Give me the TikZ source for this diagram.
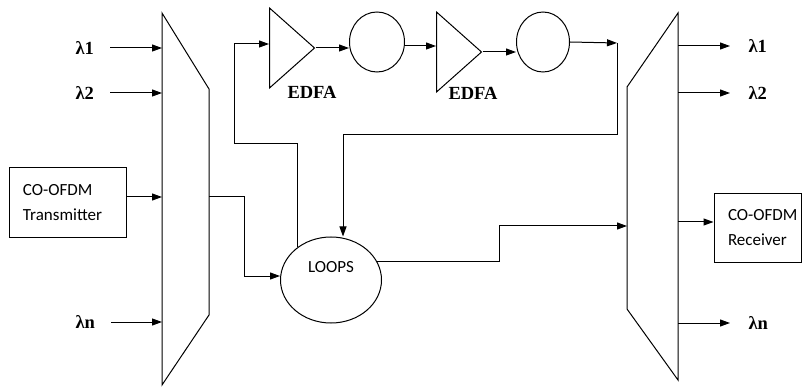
\documentclass[tikz,border=0pt]{standalone}
\usepackage{fontspec}
\setmainfont{Liberation Serif}
\newfontfamily\calfont{Carlito}
\usetikzlibrary{arrows.meta,shapes.geometric}

\begin{document}
\begin{tikzpicture}[x=1pt, y=-1pt, >={Triangle[length=10pt,width=7pt]}, line width=1pt,
    lam/.style={anchor=west, inner sep=0pt, font=\fontsize{18.5}{20}\selectfont\bfseries},
    amp/.style={draw, isosceles triangle, isosceles triangle stretches, anchor=lower side, minimum width=80pt, minimum height=45pt, inner sep=0pt},
    ring/.style={draw, ellipse, minimum width=55pt, minimum height=60pt, inner sep=0pt},
    ofdm/.style={draw, inner sep=0pt, align=left, minimum height=69pt, font=\calfont\fontsize{17}{25}\selectfont}]
    \useasboundingbox (0,0) rectangle (803,390);

    % mux and demux
    \draw (162,13) -- (209,89) -- (209,315) -- (162,385) -- cycle;
    \draw (627,87) -- (678,13) -- (678,380) -- (627,309) -- cycle;

    % transmitter side
    \node[ofdm, text width=89pt, minimum width=117pt] (tx) at (67.5,202.5) {CO-OFDM\\Transmitter};
    \foreach \y/\i in {48/1, 93/2, 322/n} {
        \node[lam] (lin\i) at (75,\y) {λ\i};
        \coordinate (min\i) at (162,\y);
        \draw[->] ([xshift=16pt]lin\i.east) -- (min\i);
    }
    \coordinate (mtx) at (162,197);
    \draw[->] (tx.east |- mtx) -- (mtx);

    % amplifier chain
    \node[amp] (amp1) at (269,48) {};
    \node[ring] (c1) at (377,42) {};
    \node[amp] (amp2) at (436,52) {};
    \node[ring, minimum width=53pt] (c2) at (543,42) {};
    \node[lam, anchor=center] (edfa1) at (312,92) {EDFA};
    \node[lam, anchor=center] (edfa2) at (473,93) {EDFA};

    \node[draw, ellipse, minimum width=101pt, minimum height=86pt, inner sep=0pt, text depth=27pt, font=\calfont\fontsize{17}{20}\selectfont] (loops) at (331,280) {LOOPS};

    \coordinate (mout) at (209,197);
    \coordinate (drop) at (244,197);
    \draw[->] (mout) -- (drop) |- ([yshift=4pt]loops.west);
    \coordinate (fbk) at (234,144);
    \draw[->] (loops.136) |- (fbk) |- ([yshift=4pt]amp1.lower side);
    \draw[->] (amp1.apex) -- (amp1.apex -| c1.west);
    \draw[->] ([yshift=-4pt]c1.east) -- ([yshift=-4pt]c1.east -| amp2.lower side);
    \draw[->] (amp2.apex) -- (amp2.apex -| c2.west);
    \coordinate (ctop) at (617,43);
    \coordinate (cbot) at (617,135);
    \draw[->] (c2.east) -- (ctop);
    \draw[->] (ctop) -- (cbot) -| ([xshift=12pt]loops.north);

    % loops to demux
    \coordinate (jog) at (499,226);
    \coordinate (mrx) at (627,226);
    \draw[->] (loops.22) -| (jog) -- (mrx);

    % receiver side
    \node[ofdm, text width=59pt, minimum width=87pt] (rx) at (757.5,228) {\makebox[59pt][l]{CO-OFDM}\\Receiver};
    \coordinate (mrc) at (678,222);
    \draw[->] (mrc) -- (mrc -| rx.west);
    \foreach \y/\i in {46/1, 93/2, 323/n} {
        \coordinate (mo\i) at (678,\y);
        \node[lam] (lout\i) at (748,\y) {λ\i};
        \draw[->] (mo\i) -- ([xshift=-18pt]lout\i.west);
    }
\end{tikzpicture}
\end{document}
